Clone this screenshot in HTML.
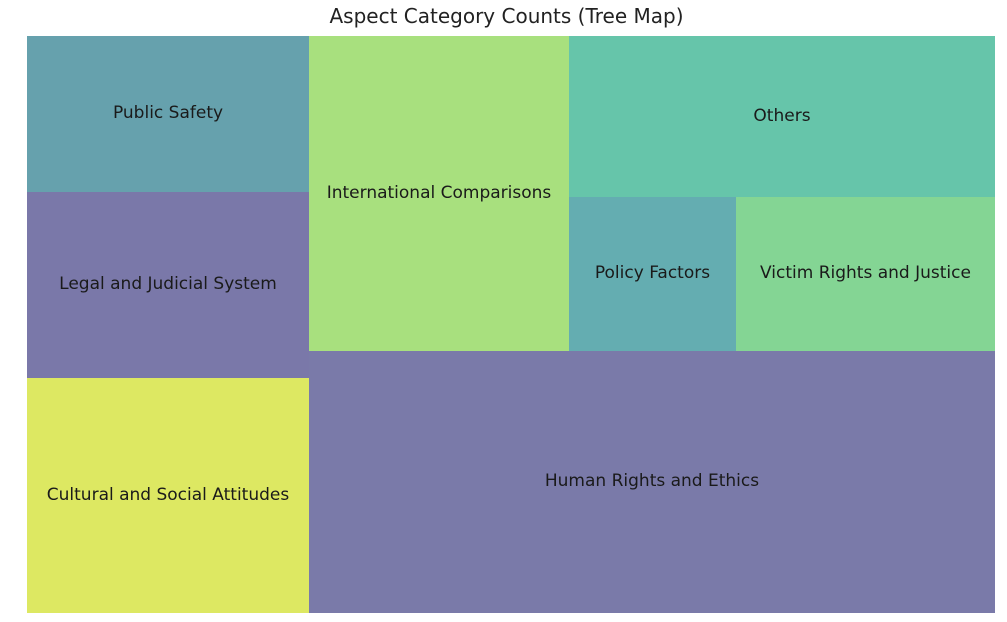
<!DOCTYPE html>
<html><head><meta charset="utf-8"><style>
html,body{margin:0;padding:0;background:#fff;}
body{width:1007px;height:622px;position:relative;overflow:hidden;font-family:"DejaVu Sans","Liberation Sans",sans-serif;}
.t{position:absolute;display:flex;align-items:center;justify-content:center;font-size:17px;color:#1a1a1a;white-space:nowrap;padding-bottom:2px;box-sizing:border-box;}
.title{position:absolute;left:0;width:1013px;top:4px;text-align:center;font-size:20px;color:#222;}
</style></head><body>
<div class="title">Aspect Category Counts (Tree Map)</div>
<div class="t" style="left:27px;top:36px;width:282px;height:156px;background:#66a1ad">Public Safety</div>
<div class="t" style="left:27px;top:192px;width:282px;height:186px;background:#7a78a9">Legal and Judicial System</div>
<div class="t" style="left:27px;top:378px;width:282px;height:235px;background:#dde862">Cultural and Social Attitudes</div>
<div class="t" style="left:309px;top:36px;width:260px;height:315px;background:#a8e07e">International Comparisons</div>
<div class="t" style="left:569px;top:36px;width:426px;height:161px;background:#66c5aa">Others</div>
<div class="t" style="left:569px;top:197px;width:167px;height:154px;background:#64adb1">Policy Factors</div>
<div class="t" style="left:736px;top:197px;width:259px;height:154px;background:#84d594">Victim Rights and Justice</div>
<div class="t" style="left:309px;top:351px;width:686px;height:262px;background:#7a7aa9">Human Rights and Ethics</div>
</body></html>
